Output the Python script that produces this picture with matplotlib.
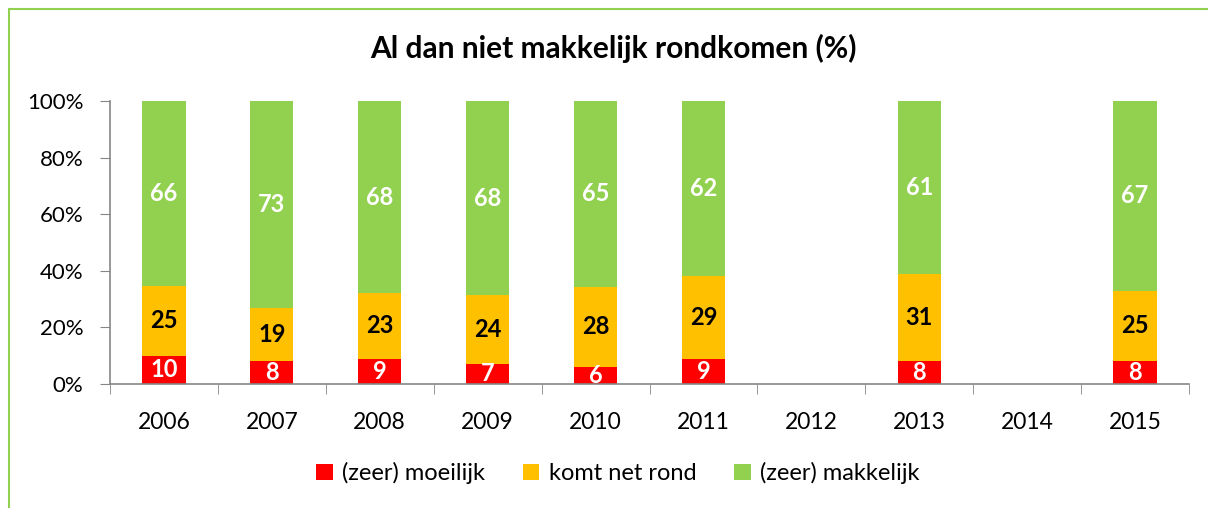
import numpy as np
import matplotlib
matplotlib.use('Agg')
import matplotlib.pyplot as plt
from matplotlib.patches import Rectangle

years = ['2006', '2007', '2008', '2009', '2010', '2011', '2012', '2013', '2014', '2015']
moeilijk = [10, 8, 9, 7, 6, 9, None, 8, None, 8]
net_rond = [25, 19, 23, 24, 28, 29, None, 31, None, 25]
makkelijk = [66, 73, 68, 68, 65, 62, None, 61, None, 67]

series_names = ['(zeer) moeilijk', 'komt net rond', '(zeer) makkelijk']
colors = ['#FF0000', '#FFC000', '#92D050']
label_colors = ['white', 'black', 'white']

plt.rcParams['font.family'] = ['Lato', 'DejaVu Sans']

fig = plt.figure(figsize=(12.08, 5.08), dpi=100)
ax = fig.add_axes([110 / 1208, 1 - 384 / 508, (1189 - 110) / 1208, (384 - 101) / 508])

# groene rand om de grafiek
fig.patches.append(Rectangle((9 / 1208, -0.1), 1.2, 1 - 9 / 508 + 0.1, transform=fig.transFigure,
                             fill=False, edgecolor='#92D050', linewidth=1.5))

x = np.arange(len(years))
data = [moeilijk, net_rond, makkelijk]
totals = np.array([sum(d[i] or 0 for d in data) for i in range(len(years))], dtype=float)
totals[totals == 0] = 1
bottom = np.zeros(len(years))
for vals, name, col, lc in zip(data, series_names, colors, label_colors):
    raw = np.array([v if v is not None else 0 for v in vals], dtype=float)
    pct = raw / totals * 100
    ax.bar(x, pct, 0.4, bottom=bottom, color=col, label=name)
    for i, v in enumerate(vals):
        if v is None:
            continue
        ax.text(x[i], bottom[i] + pct[i] / 2, str(v), ha='center', va='center',
                color=lc, fontsize=17, fontweight='bold')
    bottom += pct

ax.set_xlim(-0.5, len(years) - 0.5)
ax.set_ylim(0, 100)
ax.set_yticks(range(0, 101, 20))
ax.set_yticklabels([f'{v}%' for v in range(0, 101, 20)], fontsize=16)
ax.set_xticks(x)
ax.set_xticklabels(years, fontsize=16.5)
ax.set_xticks(np.arange(-0.5, len(years)), minor=True)
ax.tick_params(axis='x', which='major', length=0, pad=20)
ax.tick_params(axis='x', which='minor', length=7, color='#868686', direction='out')
ax.tick_params(axis='y', length=7, color='#868686', direction='out', pad=12)
for s in ['top', 'right']:
    ax.spines[s].set_visible(False)
for s in ['left', 'bottom']:
    ax.spines[s].set_color('#868686')
    ax.spines[s].set_linewidth(1.2)

fig.text(613 / 1208, 1 - 48 / 508, 'Al dan niet makkelijk rondkomen (%)', ha='center', va='center',
         fontsize=21.5, fontweight='bold')

fig.legend(loc='center', bbox_to_anchor=(618 / 1208, 1 - 473 / 508), ncol=3, frameon=False,
           fontsize=17, handlelength=0.7, handleheight=0.7, handletextpad=0.4, columnspacing=1.6)

fig.savefig('out.png', dpi=100, facecolor='white')
plt.close(fig)
